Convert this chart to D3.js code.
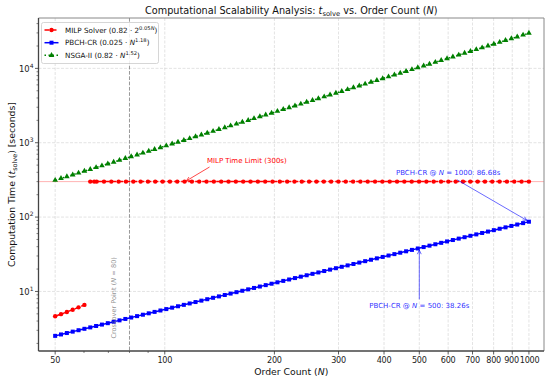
<!DOCTYPE html>
<html><head><meta charset="utf-8">
<script src="https://cdn.jsdelivr.net/npm/d3@7"></script>
<style>body{margin:0;background:#fff}svg{display:block}text{font-family:"DejaVu Sans",sans-serif}</style>
</head><body><svg id="c" width="550" height="381"></svg>
<script>
// ---- data ----
const orderN = [50.00,51.88,53.84,55.87,57.97,60.16,62.42,64.77,67.21,69.75,72.38,75.10,77.93,80.87,83.92,87.08,90.36,93.76,97.29,100.96,
104.76,108.71,112.81,117.06,121.47,126.04,130.79,135.72,140.83,146.14,151.65,157.36,163.29,169.44,175.82,182.45,189.32,196.45,203.86,211.54,
219.51,227.78,236.36,245.26,254.51,264.10,274.04,284.37,295.08,306.20,317.74,329.71,342.13,355.02,368.40,382.28,396.68,411.62,427.13,443.23,
459.93,477.26,495.23,513.89,533.26,553.35,574.20,595.83,618.27,641.58,665.75,690.83,716.85,743.86,771.90,800.98,831.15,862.46,894.95,928.69,963.67,1000];
const pbchTime = [2.527,2.640,2.758,2.881,3.010,3.144,3.284,3.431,3.584,3.744,3.911,4.085,4.267,4.458,4.657,4.864,5.081,5.308,5.545,5.792,
6.050,6.320,6.602,6.897,7.204,7.526,7.861,8.212,8.579,8.961,9.361,9.779,10.215,10.670,11.146,11.643,12.163,12.705,13.272,13.864,
14.482,15.129,15.803,16.508,17.245,18.014,18.817,19.657,20.534,21.450,22.406,23.406,24.450,25.541,26.680,27.870,29.113,30.412,31.769,33.186,
34.666,36.213,37.828,39.515,41.278,43.119,45.042,47.052,49.151,51.343,53.634,56.026,58.525,61.135,63.863,66.712,69.687,72.796,76.043,79.435,82.978,86.680];
const nsgaTime = [313.5,331.6,350.8,371.1,392.6,415.3,439.3,464.7,491.5,520.0,550.0,581.8,615.5,651.1,688.7,728.5,770.7,815.2,862.4,912.2,
965.0,1020.8,1079.8,1142.3,1208.3,1278.2,1352.1,1430.3,1513.0,1600.5,1693.0,1790.9,1894.5,2004.0,2119.9,2242.5,2372.1,2509.4,2654.4,2808.0,
2970.3,3142.0,3323.8,3515.9,3719.3,3934.3,4161.8,4402.5,4657.1,4926.4,5211.2,5512.5,5831.3,6168.5,6525.3,6902.5,7301.7,7724.0,8170.5,8643.1,
9142.8,9671.4,10230.8,10822.2,11448.3,12110.1,12810.4,13551.2,14334.7,15163.9,16040.5,16968.0,17949.4,18987.1,20085.3,21246.6,22475.0,23774.9,25149.5,26604.1,28142.4,29769];
// MILP: solved points (N <= 60) and time-limited points (capped at 300 s)
const milpN = [50.00,51.88,53.84,55.87,57.97,60.16];
const milpTime = [4.638,4.950,5.299,5.684,6.114,6.597];
const milpCapN = [62.42,64.00,65.00,68.08,71.31,74.69,78.23,81.94,85.83,89.90,94.16,98.63,103.30,108.20,113.33,118.71,124.33,130.23,136.40,142.87,
149.65,156.74,164.18,171.96,180.11,188.66,197.60,206.97,216.79,227.06,237.83,249.11,260.92,273.30,286.25,299.83,314.05,328.94,344.53,360.87,
377.98,395.90,414.68,434.34,454.93,476.51,499.10,522.77,547.56,573.52,600.72,629.20,659.04,690.29,723.02,757.31,793.22,830.83,870.22,911.49,954.71,1000];
const milpCapTime = [300,300,300,300,300,300,300,300,300,300,300,300,300,300,300,300,300,300,300,300,
300,300,300,300,300,300,300,300,300,300,300,300,300,300,300,300,300,300,300,300,
300,300,300,300,300,300,300,300,300,300,300,300,300,300,300,300,300,300,300,300,300,300];
const xTickValues = [50,100,200,300,400,500,600,700,800,900,1000];
const xMinorValues = [60,70,80,90];
const yTickValues = [10,100,1000,10000];
const timeLimit = 300;
const crossoverN = 80;
const seriesNames = ["MILP Solver","PBCH-CR","NSGA-II"];

// ---- layout ----
const svg = d3.select("#c");
const L=38.5,R=544,T=18,B=351;
const x = d3.scaleLog().domain([45,1100]).range([L,R]);
const y = d3.scaleLog().domain([1.5815,47580]).range([B,T]);

// grid
const g = svg.append("g");
xTickValues.forEach(v=>g.append("line").attr("x1",x(v)).attr("x2",x(v)).attr("y1",T).attr("y2",B)
  .attr("stroke","#b0b0b0").attr("stroke-opacity",0.45).attr("stroke-width",0.8).attr("stroke-dasharray","3,1.5"));
yTickValues.forEach(v=>g.append("line").attr("y1",y(v)).attr("y2",y(v)).attr("x1",L).attr("x2",R)
  .attr("stroke","#b0b0b0").attr("stroke-opacity",0.45).attr("stroke-width",0.8).attr("stroke-dasharray","3,1.5"));

// clip
svg.append("clipPath").attr("id","pc").append("rect").attr("x",L).attr("y",T).attr("width",R-L).attr("height",B-T);
const pg = svg.append("g").attr("clip-path","url(#pc)");

// time limit line
pg.append("line").attr("x1",L).attr("x2",R).attr("y1",y(timeLimit)).attr("y2",y(timeLimit))
  .attr("stroke","red").attr("stroke-opacity",0.3).attr("stroke-width",1);
// crossover line
pg.append("line").attr("x1",x(crossoverN)).attr("x2",x(crossoverN)).attr("y1",T).attr("y2",B)
  .attr("stroke","#808080").attr("stroke-opacity",0.8).attr("stroke-width",1).attr("stroke-dasharray","3.7,1.6");

const line = d3.line().x(d=>x(d[0])).y(d=>y(d[1]));
// NSGA
const nsgaPts = orderN.map((n,i)=>[n,nsgaTime[i]]);
pg.append("path").attr("d",line(nsgaPts)).attr("fill","none").attr("stroke","green").attr("stroke-width",1.5).attr("stroke-dasharray","1.5,2.5");
const tri = d3.symbol().type(d3.symbolTriangle).size(14);
pg.selectAll(".tri").data(nsgaPts).enter().append("path").attr("d",tri)
  .attr("transform",d=>`translate(${x(d[0])},${y(d[1])})`).attr("fill","green");
// PBCH
const pbchPts = orderN.map((n,i)=>[n,pbchTime[i]]);
pg.append("path").attr("d",line(pbchPts)).attr("fill","none").attr("stroke","blue").attr("stroke-width",1.5);
pg.selectAll(".sq").data(pbchPts).enter().append("rect").attr("x",d=>x(d[0])-2).attr("y",d=>y(d[1])-2)
  .attr("width",4).attr("height",4).attr("fill","blue");
// MILP
const milpLow = milpN.map((n,i)=>[n,milpTime[i]]);
const milpCap = milpCapN.map((n,i)=>[n,milpCapTime[i]]);
[milpLow,milpCap].forEach(seg=>{
  pg.append("path").attr("d",line(seg)).attr("fill","none").attr("stroke","red").attr("stroke-width",1.5).attr("stroke-dasharray","5,2");
  pg.append("g").selectAll("circle").data(seg).enter().append("circle").attr("cx",d=>x(d[0])).attr("cy",d=>y(d[1])).attr("r",2.2).attr("fill","red");
});

// spines
svg.append("line").attr("x1",L).attr("x2",R).attr("y1",T).attr("y2",T).attr("stroke","#888").attr("stroke-width",1);
svg.append("line").attr("x1",R).attr("x2",R).attr("y1",T).attr("y2",B).attr("stroke","#888").attr("stroke-width",1);
svg.append("line").attr("x1",L).attr("x2",L).attr("y1",T).attr("y2",B).attr("stroke","#444").attr("stroke-width",1.3);
svg.append("line").attr("x1",L).attr("x2",R).attr("y1",B).attr("y2",B).attr("stroke","#444").attr("stroke-width",1.3);

// x ticks
const nudge = {900:-0.7, 1000:0.7};
xTickValues.forEach(v=>{
  svg.append("line").attr("x1",x(v)).attr("x2",x(v)).attr("y1",B).attr("y2",B+3.5).attr("stroke","#333").attr("stroke-width",0.8);
  svg.append("text").attr("x",x(v)+(nudge[v]||0)).attr("y",B+12.3).attr("text-anchor","middle").attr("font-size",8.1)
    .attr("letter-spacing",-0.25).attr("fill","#222").text(v);
});
xMinorValues.forEach(v=>svg.append("line").attr("x1",x(v)).attr("x2",x(v)).attr("y1",B).attr("y2",B+2).attr("stroke","#333").attr("stroke-width",0.6));
// y ticks
yTickValues.forEach(v=>{
  svg.append("line").attr("x1",L-3.5).attr("x2",L).attr("y1",y(v)).attr("y2",y(v)).attr("stroke","#333").attr("stroke-width",0.8);
  const t = svg.append("text").attr("x",L-5).attr("y",y(v)+3.3).attr("text-anchor","end").attr("font-size",8.4).attr("fill","#222");
  t.append("tspan").text("10");
  t.append("tspan").attr("dy",-4).attr("font-size",6).text(Math.round(Math.log10(v)));
});
for(let e=0;e<5;e++) for(let k=2;k<10;k++){ const v=k*Math.pow(10,e); if(v>y.domain()[0]&&v<y.domain()[1])
  svg.append("line").attr("x1",L-2).attr("x2",L).attr("y1",y(v)).attr("y2",y(v)).attr("stroke","#333").attr("stroke-width",0.6);}

// title
const tt = svg.append("text").attr("x",(L+R)/2).attr("y",14).attr("text-anchor","middle").attr("font-size",9.7).attr("fill","#111");
tt.append("tspan").text("Computational Scalability Analysis: ");
tt.append("tspan").attr("font-style","italic").text("t");
tt.append("tspan").attr("dy",2).attr("font-size",6.8).text("solve");
tt.append("tspan").attr("dy",-2).text(" vs. Order Count (");
tt.append("tspan").attr("font-style","italic").text("N");
tt.append("tspan").text(")");
// x label
const xl = svg.append("text").attr("x",(L+R)/2).attr("y",375).attr("text-anchor","middle").attr("font-size",9.3).attr("fill","#111");
xl.append("tspan").text("Order Count (");
xl.append("tspan").attr("font-style","italic").text("N");
xl.append("tspan").text(")");
// y label
const yl = svg.append("text").attr("transform",`translate(14.5,${(T+B)/2}) rotate(-90)`).attr("text-anchor","middle").attr("font-size",9.3).attr("fill","#111");
yl.append("tspan").text("Computation Time (");
yl.append("tspan").attr("font-style","italic").text("t");
yl.append("tspan").attr("dy",2).attr("font-size",6.5).text("solve");
yl.append("tspan").attr("dy",-2).text(") [seconds]");

// annotations
function arrow(x1,y1,x2,y2,col,op){
  const a = Math.atan2(y2-y1,x2-x1), hl=4.5, hw=0.45;
  svg.append("line").attr("x1",x1).attr("y1",y1).attr("x2",x2).attr("y2",y2).attr("stroke",col).attr("stroke-opacity",op).attr("stroke-width",0.9);
  svg.append("path").attr("d",`M${x2-hl*Math.cos(a-hw)},${y2-hl*Math.sin(a-hw)}L${x2},${y2}L${x2-hl*Math.cos(a+hw)},${y2-hl*Math.sin(a+hw)}`)
    .attr("fill","none").attr("stroke",col).attr("stroke-opacity",op).attr("stroke-width",0.9);
}
// MILP time limit
svg.append("text").attr("x",x(168)).attr("y",y(568)).attr("dy","0.35em").attr("text-anchor","middle").attr("font-size",7).attr("fill","red").text("MILP Time Limit (300s)");
arrow(x(132.7),y(471.6),x(113.6)+1.5,y(timeLimit)-0.8,"red",0.8);
// PBCH @1000
const a1 = svg.append("text").attr("x",x(600)).attr("y",y(400)).attr("dy","0.35em").attr("text-anchor","middle").attr("font-size",7).attr("fill","blue").attr("fill-opacity",0.85);
a1.append("tspan").text("PBCH-CR @ ");a1.append("tspan").attr("font-style","italic").text("N");a1.append("tspan").text(" = 1000: 86.68s");
arrow(x(600)+9,y(400)+7.5,x(1000)-2,y(86.68)-1.3,"blue",0.65);
// PBCH @500
const a2 = svg.append("text").attr("x",x(500)).attr("y",y(6.5)).attr("dy","0.35em").attr("text-anchor","middle").attr("font-size",7).attr("fill","blue").attr("fill-opacity",0.85);
a2.append("tspan").text("PBCH-CR @ ");a2.append("tspan").attr("font-style","italic").text("N");a2.append("tspan").text(" = 500: 38.26s");
arrow(x(500),y(6.5)-6,x(500),y(38.26)+2,"blue",0.65);
// crossover text
const ct = svg.append("text").attr("transform",`translate(${x(72.5)},${y(8.2)}) rotate(-90)`).attr("dy","0.35em").attr("text-anchor","middle").attr("font-size",6.6).attr("fill","#808080").attr("fill-opacity",0.85);
ct.append("tspan").text("Crossover Point (");ct.append("tspan").attr("font-style","italic").text("N");ct.append("tspan").text(" = 80)");

// legend
const lg = svg.append("g");
lg.append("rect").attr("x",41.5).attr("y",22.5).attr("width",117).attr("height",41).attr("rx",2).attr("fill","#fff").attr("fill-opacity",0.85).attr("stroke","#ccc").attr("stroke-width",0.8);
const ly=[30,42.7,55.3], hx0=44.5,hx1=58.5,hm=51.5,tx=65;
lg.append("line").attr("x1",hx0).attr("x2",hx1).attr("y1",ly[0]).attr("y2",ly[0]).attr("stroke","red").attr("stroke-width",1.5).attr("stroke-dasharray","5,2");
lg.append("circle").attr("cx",hm).attr("cy",ly[0]).attr("r",2.2).attr("fill","red");
lg.append("line").attr("x1",hx0).attr("x2",hx1).attr("y1",ly[1]).attr("y2",ly[1]).attr("stroke","blue").attr("stroke-width",1.5);
lg.append("rect").attr("x",hm-2).attr("y",ly[1]-2).attr("width",4).attr("height",4).attr("fill","blue");
lg.append("line").attr("x1",hx0).attr("x2",hx1).attr("y1",ly[2]).attr("y2",ly[2]).attr("stroke","green").attr("stroke-width",1.5).attr("stroke-dasharray","1.5,2.5");
lg.append("path").attr("d",tri).attr("transform",`translate(${hm},${ly[2]})`).attr("fill","green");
function legText(yy,name,coef,base,exp,expItal){
  const t = lg.append("text").attr("x",tx).attr("y",yy+2.6).attr("font-size",7.2).attr("fill","#111");
  t.append("tspan").text(`${name} (${coef} · `);
  t.append("tspan").attr("font-style",base==="N"?"italic":"normal").text(base);
  t.append("tspan").attr("dy",-3).attr("font-size",5.2).text(exp);
  if(expItal) t.append("tspan").attr("font-size",5.2).attr("font-style","italic").text(expItal);
  t.append("tspan").attr("dy",3).text(")");
}
legText(ly[0],seriesNames[0],"0.82","2","0.05","N");
legText(ly[1],seriesNames[1],"0.025","N","1.18","");
legText(ly[2],seriesNames[2],"0.82","N","1.52","");
</script></body></html>
